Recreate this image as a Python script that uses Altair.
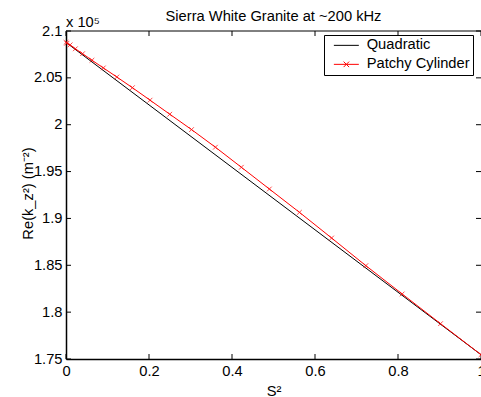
import altair as alt
import pandas as pd

# ---- data (y in units of 1e5 m^-2) ----
quad_x = [0.0, 1.0]
quad_y = [2.0878, 1.7546]

patchy_x = [0.0, 0.0025, 0.01, 0.0225, 0.04, 0.0625, 0.09, 0.1225, 0.16, 0.2025,
            0.25, 0.3025, 0.36, 0.4225, 0.49, 0.5625, 0.64, 0.7225, 0.81, 0.9025, 1.0]
patchy_y = [2.0878, 2.0870, 2.0852, 2.0810, 2.0758, 2.0688, 2.0606, 2.0509, 2.0395, 2.0262,
            2.0112, 1.9948, 1.9760, 1.9546, 1.9314, 1.9065, 1.8791, 1.8496, 1.8194, 1.7877, 1.7546]

series_names = ["Quadratic", "Patchy Cylinder"]
series_colors = ["black", "red"]

x_ticks = [0, 0.2, 0.4, 0.6, 0.8, 1]
y_ticks = [1.75, 1.8, 1.85, 1.9, 1.95, 2.0, 2.05, 2.1]

TITLE = "Sierra White Granite at ~200 kHz"
FONT = "Liberation Sans"
FS = 14.7

df = pd.DataFrame(
    {"S2": quad_x + patchy_x,
     "k": quad_y + patchy_y,
     "series": [series_names[0]] * len(quad_x) + [series_names[1]] * len(patchy_x)}
)
df_patchy = pd.DataFrame({"S2": patchy_x, "k": patchy_y})
df_xt = pd.DataFrame({"t": x_ticks})
df_yt = pd.DataFrame({"t": y_ticks})
df_one = df_xt.head(1)

xscale = alt.Scale(domain=[0, 1], nice=False, zero=False)
yscale = alt.Scale(domain=[1.75, 2.1], nice=False, zero=False)

xaxis = alt.Axis(values=x_ticks, format="~g", grid=False, ticks=False,
                 domainColor="black", domainWidth=1.5, labelFlush=False,
                 labelFont=FONT, labelFontSize=FS, labelColor="black", labelPadding=4,
                 title="S²", titleFont=FONT, titleFontSize=FS, titleFontWeight="normal",
                 titleColor="black", titleY=36, titleBaseline="alphabetic")
yaxis = alt.Axis(values=y_ticks, format="~g", grid=False, ticks=False,
                 domainColor="black", domainWidth=1.5, labelFlush=False,
                 labelFont=FONT, labelFontSize=FS, labelColor="black", labelPadding=4,
                 title="Re(k_z²) (m⁻²)", titleFont=FONT, titleFontSize=FS,
                 titleFontWeight="normal", titleColor="black",
                 titleX=-34, titleY=162, titleBaseline="alphabetic", titleAngle=270)

legend = alt.Legend(
    title=None, orient="none", legendX=258, legendY=4,
    symbolType=alt.ExprRef(
        "datum.value == 'Patchy Cylinder' ? "
        "'M-2,0L2,0M-0.44,-0.44L0.44,0.44M-0.44,0.44L0.44,-0.44' : 'M-2,0L2,0'"),
    symbolSize=156, symbolStrokeWidth=1, symbolOffset=12,
    labelFont=FONT, labelFontSize=FS, labelColor="black", labelOffset=13,
    labelExpr="datum.label + '\u00a0\u00a0'",
    strokeColor="black", fillColor="white", padding=3, rowPadding=3,
)

lines = alt.Chart(df).mark_line(strokeWidth=1).encode(
    x=alt.X("S2:Q", scale=xscale, axis=xaxis),
    y=alt.Y("k:Q", scale=yscale, axis=yaxis),
    color=alt.Color("series:N",
                    scale=alt.Scale(domain=series_names, range=series_colors),
                    legend=legend),
    order=alt.Order("S2:Q"),
)

markers = alt.Chart(df_patchy).mark_point(
    shape="M-1,-1L1,1M-1,1L1,-1", filled=False, color="red", size=22, strokeWidth=1
).encode(x="S2:Q", y="k:Q")

# frame top line
top_line = alt.Chart(df_one).mark_rule(color="black", strokeWidth=1).encode(
    x=alt.datum(0), x2=alt.datum(1), y=alt.datum(2.1))

# inward ticks
tick_bottom = alt.Chart(df_xt).mark_rule(color="black", strokeWidth=1, y2Offset=-5).encode(
    x="t:Q", y=alt.datum(1.75), y2=alt.datum(1.75))
tick_top = alt.Chart(df_xt).mark_rule(color="black", strokeWidth=1, y2Offset=5).encode(
    x="t:Q", y=alt.datum(2.1), y2=alt.datum(2.1))
tick_left = alt.Chart(df_yt).mark_rule(color="black", strokeWidth=1, x2Offset=5).encode(
    y="t:Q", x=alt.datum(0), x2=alt.datum(0))
tick_right = alt.Chart(df_yt).mark_rule(color="black", strokeWidth=1, x2Offset=-5).encode(
    y="t:Q", x=alt.datum(1), x2=alt.datum(1))

exponent = alt.Chart(df_one).mark_text(
    align="left", baseline="alphabetic", dy=-4, font=FONT, fontSize=FS, color="black"
).encode(x=alt.datum(0), y=alt.datum(2.1), text=alt.value("x 10⁵"))

title = alt.Chart(df_one).mark_text(
    align="center", baseline="alphabetic", dy=-10, font=FONT, fontSize=FS, color="black"
).encode(x=alt.datum(0.5), y=alt.datum(2.1), text=alt.value(TITLE))

chart = alt.layer(
    top_line, tick_bottom, tick_top, tick_left, tick_right,
    lines, markers, exponent, title
).properties(
    width=415, height=328,
    padding={"left": 66, "top": 31, "right": 0, "bottom": 38},
    autosize=alt.AutoSizeParams(type="none"),
    background="white",
).configure_view(stroke=None)

chart.save("out.html", embed_options={"renderer": "svg", "actions": False})
